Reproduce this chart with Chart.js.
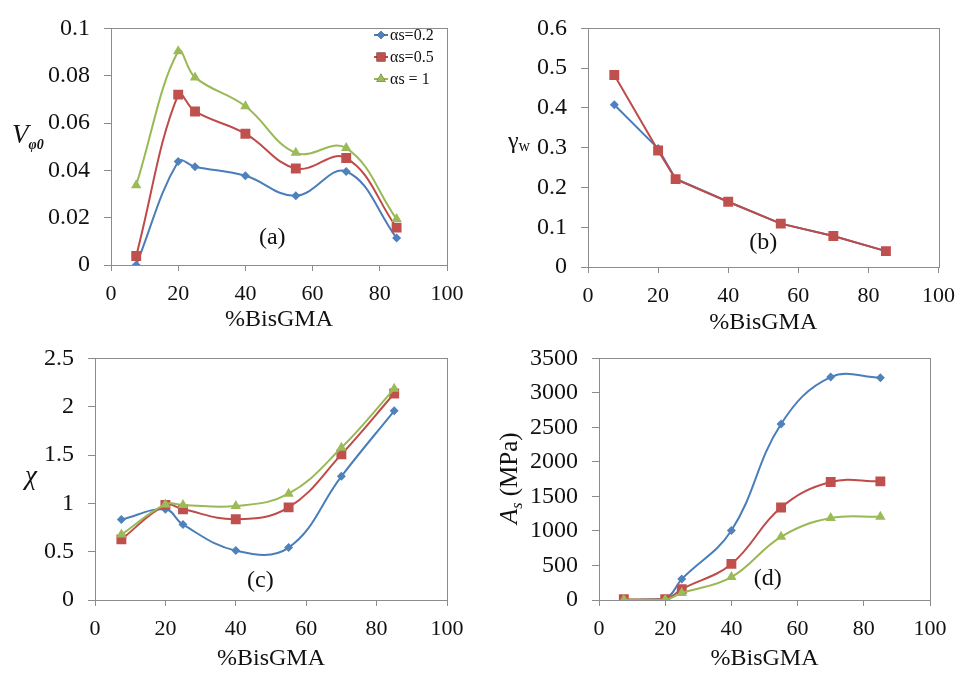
<!DOCTYPE html>
<html>
<head>
<meta charset="utf-8">
<script src="https://cdn.jsdelivr.net/npm/chart.js@4.4.0/dist/chart.umd.min.js"></script>
<style>
  html, body { margin: 0; padding: 0; background: #fff; }
  #wrap { position: relative; width: 965px; height: 673px; overflow: hidden; }
  canvas { position: absolute; }
</style>
</head>
<body>
<div id="wrap">
  <canvas id="chA" width="480" height="330" style="left:0;top:0"></canvas>
  <canvas id="chB" width="485" height="330" style="left:480px;top:0"></canvas>
  <canvas id="chC" width="480" height="343" style="left:0;top:330px"></canvas>
  <canvas id="chD" width="485" height="343" style="left:480px;top:330px"></canvas>
</div>
<script>
// shared x values (%BisGMA) and labels
const bisGMA = [7.5, 20, 25, 40, 55, 70, 85];
const xTicks = [0, 20, 40, 60, 80, 100];
const seriesNames = ["αs=0.2", "αs=0.5", "αs = 1"];

// (a) V_phi0
const vPhi_02 = [0, 0.0437, 0.0415, 0.0377, 0.0293, 0.0395, 0.0114];
const vPhi_05 = [0.0038, 0.072, 0.0649, 0.0555, 0.0408, 0.0452, 0.0158];
const vPhi_1  = [0.0337, 0.0903, 0.0793, 0.0671, 0.0474, 0.0494, 0.0194];
const yTicksA  = [0, 0.02, 0.04, 0.06, 0.08, 0.1];
const yLabelsA = ["0", "0.02", "0.04", "0.06", "0.08", "0.1"];

// (b) gamma_w
const gammaW_02 = [0.408, 0.298, 0.222, 0.164, 0.109, 0.078, 0.040];
const gammaW_05 = [0.483, 0.293, 0.221, 0.164, 0.109, 0.078, 0.040];
const yTicksB  = [0, 0.1, 0.2, 0.3, 0.4, 0.5, 0.6];
const yLabelsB = ["0", "0.1", "0.2", "0.3", "0.4", "0.5", "0.6"];

// (c) chi
const chi_02 = [0.833, 0.938, 0.78, 0.511, 0.542, 1.28, 1.958];
const chi_05 = [0.627, 0.983, 0.938, 0.836, 0.958, 1.507, 2.137];
const chi_1  = [0.677, 0.989, 0.983, 0.972, 1.10, 1.575, 2.185];
const yTicksC  = [0, 0.5, 1, 1.5, 2, 2.5];
const yLabelsC = ["0", "0.5", "1", "1.5", "2", "2.5"];

// (d) A_s (MPa)
const as_02 = [0, 20, 303, 1007, 2550, 3229, 3220];
const as_05 = [12, 10, 157, 523, 1339, 1709, 1719];
const as_1  = [5, 5, 100, 332, 916, 1187, 1207];
const yTicksD  = [0, 500, 1000, 1500, 2000, 2500, 3000, 3500];
const yLabelsD = ["0", "500", "1000", "1500", "2000", "2500", "3000", "3500"];

const SERIF = "'Liberation Serif', 'Times New Roman', serif";
const AXIS = "#8c8c8c";
const STYLES = [
  { line: "#4A7EBB", fill: "#4F81BD", point: "rectRot",  r: 4.5 },
  { line: "#BE4B48", fill: "#C0504D", point: "rect",     r: 7 },
  { line: "#98B954", fill: "#9BBB59", point: "triangle", r: 6 },
];

// frame round the plot area, panel tag, y title and inner legend
const decor = {
  id: "decor",
  beforeDatasetsDraw(chart) {
    const { ctx, chartArea: a } = chart;
    ctx.save();
    ctx.strokeStyle = AXIS;
    ctx.lineWidth = 1;
    ctx.strokeRect(Math.round(a.left) + 0.5, Math.round(a.top) + 0.5,
                   Math.round(a.right - a.left), Math.round(a.bottom - a.top));
    ctx.restore();
  },
  afterDraw(chart, args, opts) {
    const ctx = chart.ctx;
    const sx = chart.scales.x, sy = chart.scales.y;
    ctx.save();
    ctx.fillStyle = "#111";
    // panel tag, anchored in data space
    ctx.font = "24px " + SERIF;
    ctx.textAlign = "center";
    ctx.textBaseline = "middle";
    ctx.fillText(opts.tag.text, sx.getPixelForValue(opts.tag.x), sy.getPixelForValue(opts.tag.y));
    // y title, rich text
    ctx.textAlign = "left";
    ctx.textBaseline = "alphabetic";
    const t = opts.title;
    ctx.translate(t.x, t.y);
    if (t.rotate) ctx.rotate(-Math.PI / 2);
    let cx = 0;
    t.parts.forEach(p => {
      ctx.font = p.font;
      ctx.fillText(p.text, cx + (p.dx || 0), p.dy || 0);
      cx += ctx.measureText(p.text).width + (p.dx || 0);
    });
    ctx.setTransform(1, 0, 0, 1, 0, 0);
    // legend
    if (opts.legend) {
      const L = opts.legend;
      chart.data.datasets.forEach((ds, i) => {
        const y = L.y + i * L.gap;
        ctx.strokeStyle = ds.borderColor;
        ctx.lineWidth = 2;
        ctx.beginPath();
        ctx.moveTo(L.x, y);
        ctx.lineTo(L.x + 14, y);
        ctx.stroke();
        Chart.helpers.drawPoint(ctx, {
          pointStyle: ds.pointStyle, radius: ds.pointRadius * 0.9, borderWidth: 0,
        }, L.x + 7, y);
        ctx.fillStyle = ds.pointBackgroundColor;
        ctx.fill();
        ctx.fillStyle = "#111";
        ctx.font = "16px " + SERIF;
        ctx.textBaseline = "middle";
        ctx.fillText(ds.label, L.x + 16, y + 1);
      });
    }
    ctx.restore();
  }
};

function makeChart(id, c) {
  const datasets = c.series.map((vals, i) => ({
    label: seriesNames[i],
    data: vals.map((v, k) => ({ x: bisGMA[k], y: v })),
    borderColor: STYLES[i].line,
    borderWidth: 2,
    pointStyle: STYLES[i].point,
    pointRadius: STYLES[i].r,
    pointBackgroundColor: STYLES[i].fill,
    pointBorderColor: STYLES[i].fill,
    pointBorderWidth: 0,
    tension: c.tension,
    order: 3 - i,
    fill: false,
  }));
  return new Chart(document.getElementById(id), {
    type: "line",
    data: { datasets },
    plugins: [decor],
    options: {
      responsive: false,
      animation: false,
      devicePixelRatio: 1,
      layout: { padding: { top: c.top, right: c.right, left: 0, bottom: 0 } },
      plugins: {
        legend: { display: false },
        tooltip: { enabled: false },
        decor: { tag: c.tag, title: c.title, legend: c.legend },
      },
      scales: {
        x: {
          type: "linear", min: 0, max: 100,
          afterBuildTicks: s => { s.ticks = xTicks.map(v => ({ value: v })); },
          afterFit: s => { s.height = c.xHeight; },
          grid: { drawOnChartArea: false, color: AXIS, tickLength: 6 },
          border: { color: AXIS },
          ticks: { font: { family: SERIF, size: 22 }, color: "#111", padding: 10, maxRotation: 0 },
          title: { display: true, text: "%BisGMA", font: { family: SERIF, size: 24 }, color: "#111", padding: { top: 0, bottom: c.titlePad } },
        },
        y: {
          type: "linear", min: c.yTicks[0], max: c.yTicks[c.yTicks.length - 1],
          afterBuildTicks: s => { s.ticks = c.yTicks.map(v => ({ value: v })); },
          afterFit: s => { s.width = c.yWidth; },
          grid: { drawOnChartArea: false, color: AXIS, tickLength: 7 },
          border: { color: AXIS },
          ticks: { font: { family: SERIF, size: 24 }, color: "#111", padding: 14,
                   callback: (v, i) => c.yLabels[i] },
        },
      },
    },
  });
}

makeChart("chA", {
  series: [vPhi_02, vPhi_05, vPhi_1], yTicks: yTicksA, yLabels: yLabelsA, tension: 0.4,
  top: 17, right: 33, yWidth: 111, xHeight: 65, titlePad: -4,
  tag: { text: "(a)", x: 48, y: 0.0114 },
  title: { x: 12, y: 143, parts: [
    { text: "V", font: "italic 27px " + SERIF },
    { text: "φ0", font: "italic bold 14px " + SERIF, dy: 6, dx: 0 },
  ] },
  legend: { x: 374, y: 35, gap: 22 },
});

makeChart("chB", {
  series: [gammaW_02, gammaW_05], yTicks: yTicksB, yLabels: yLabelsB, tension: 0,
  top: 21, right: 25, yWidth: 108, xHeight: 63, titlePad: -7,
  tag: { text: "(b)", x: 50, y: 0.061 },
  title: { x: 28, y: 148, parts: [
    { text: "γ", font: "24px " + SERIF },
    { text: "w", font: "16px " + SERIF, dy: 3 },
  ] },
});

makeChart("chC", {
  series: [chi_02, chi_05, chi_1], yTicks: yTicksC, yLabels: yLabelsC, tension: 0.4,
  top: 24, right: 33, yWidth: 95, xHeight: 73, titlePad: 0,
  tag: { text: "(c)", x: 47, y: 0.2 },
  title: { x: 25, y: 154, parts: [
    { text: "χ", font: "italic 27px " + SERIF },
  ] },
});

makeChart("chD", {
  series: [as_02, as_05, as_1], yTicks: yTicksD, yLabels: yLabelsD, tension: 0.4,
  top: 24, right: 35, yWidth: 119, xHeight: 73, titlePad: 0,
  tag: { text: "(d)", x: 51, y: 309 },
  title: { x: 37, y: 194, rotate: true, parts: [
    { text: "A", font: "italic 25px " + SERIF },
    { text: "s", font: "italic 16px " + SERIF, dy: 5 },
    { text: " (MPa)", font: "25px " + SERIF },
  ] },
});
</script>
</body>
</html>
